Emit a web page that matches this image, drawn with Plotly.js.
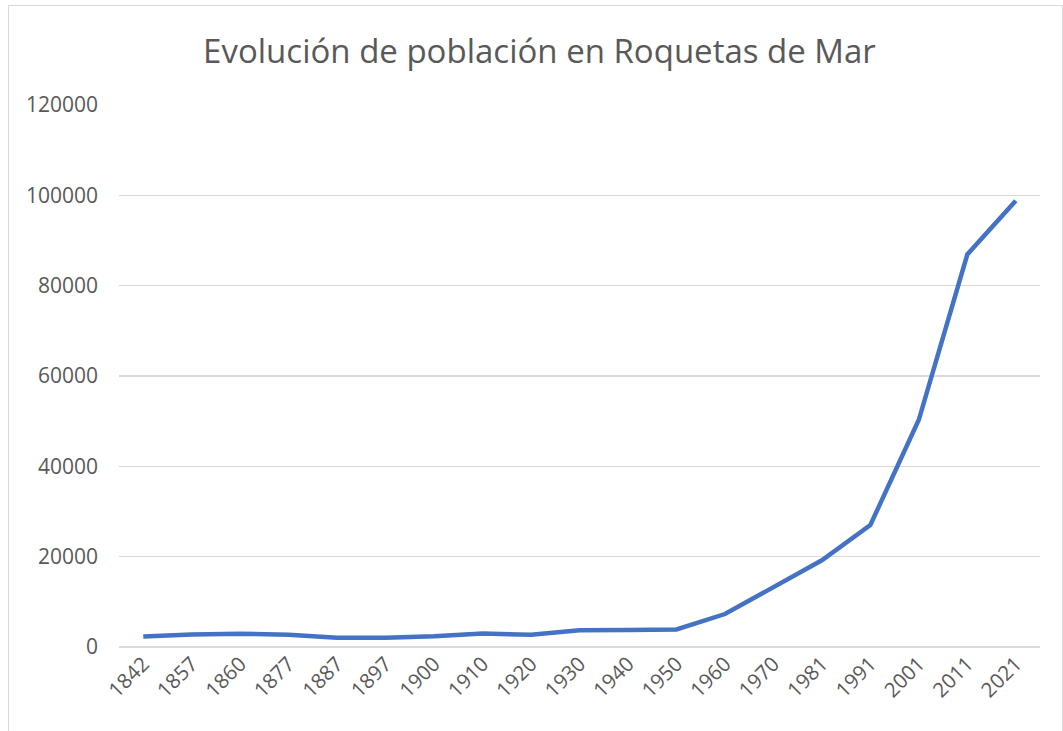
<!DOCTYPE html>
<html><head><meta charset="utf-8">
<script src="https://cdn.plot.ly/plotly-3.0.1.min.js"></script>
<style>
html,body{margin:0;padding:0;background:#fff;}
#chart{position:absolute;left:0;top:0;width:1063px;height:731px;}
#frame{position:absolute;left:8px;top:5px;width:1053px;height:740px;border:1px solid #d9d9d9;pointer-events:none;}
</style></head>
<body>
<div id="chart"></div>
<div id="frame"></div>
<script>
const years = ["1842","1857","1860","1877","1887","1897","1900","1910","1920","1930","1940","1950","1960","1970","1981","1991","2001","2011","2021"];
const population = [2300,2750,2950,2700,2070,2070,2400,3000,2700,3700,3750,3900,7300,13300,19200,27000,50300,86900,98800];
const yTicks = [0,20000,40000,60000,80000,100000,120000];

const trace = {
  x: years, y: population, type: 'scatter', mode: 'lines',
  line: {color: '#4472C4', width: 4.5}, hoverinfo: 'x+y'
};
const font = "'Open Sans', 'Liberation Sans', sans-serif";
const layout = {
  width: 1063, height: 731,
  margin: {l: 119, r: 23, t: 105, b: 84},
  paper_bgcolor: 'rgba(0,0,0,0)', plot_bgcolor: '#fff',
  showlegend: false,
  title: {text: 'Evolución de población en Roquetas de Mar', x: 0.5075, xref: 'container', xanchor: 'center',
          y: 0.929, yref: 'container', yanchor: 'middle',
          font: {family: font, size: 33, color: '#595959'}},
  xaxis: {type: 'category', range: [-0.5, 18.5], tickangle: -45, showgrid: false, zeroline: false,
          showline: false, ticks: '', tickfont: {family: font, size: 20.5, color: '#595959'}},
  yaxis: {range: [0, 120000], tickvals: yTicks, ticktext: yTicks.map(String), showgrid: true,
          gridcolor: '#d9d9d9', gridwidth: 1.5, zeroline: true, zerolinecolor: '#d9d9d9', zerolinewidth: 1.5,
          showline: false, ticks: '', ticklabelstandoff: 20,
          tickfont: {family: font, size: 21, color: '#595959'}}
};
Plotly.newPlot('chart', [trace], layout, {displayModeBar: false, staticPlot: true});
</script>
</body></html>
